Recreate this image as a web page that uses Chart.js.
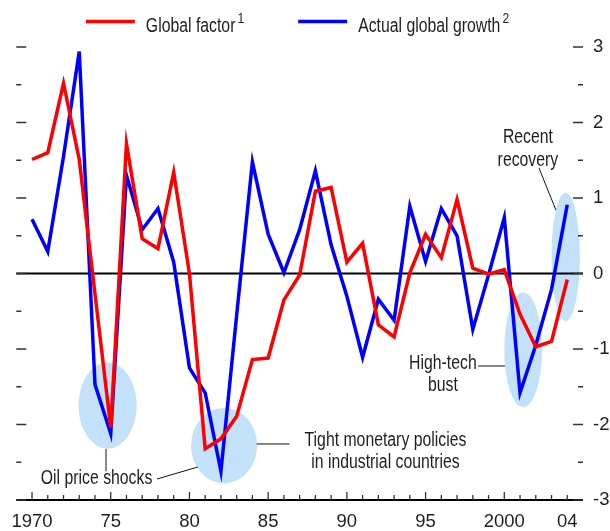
<!DOCTYPE html>
<html>
<head>
<meta charset="utf-8">
<script src="https://cdn.jsdelivr.net/npm/chart.js@4.4.1/dist/chart.umd.min.js"></script>
<style>
  html, body { margin: 0; padding: 0; background: #fff; }
  #wrap { width: 610px; height: 531px; }
</style>
</head>
<body>
<div id="wrap"><canvas id="growthChart" width="610" height="531"></canvas></div>
<script>
const years = [1970, 1971, 1972, 1973, 1974, 1975, 1976, 1977, 1978, 1979,
               1980, 1981, 1982, 1983, 1984, 1985, 1986, 1987, 1988, 1989,
               1990, 1991, 1992, 1993, 1994, 1995, 1996, 1997, 1998, 1999,
               2000, 2001, 2002, 2003, 2004];
const globalFactor = [1.51, 1.60, 2.52, 1.51, -0.27, -2.04, 1.72, 0.46, 0.33, 1.34,
                      0.00, -2.32, -2.19, -1.89, -1.14, -1.12, -0.35, -0.02, 1.09, 1.14,
                      0.15, 0.40, -0.68, -0.84, 0.01, 0.52, 0.21, 0.98, 0.07, -0.01,
                      0.05, -0.54, -0.97, -0.90, -0.08];
const actualGrowth = [0.72, 0.29, 1.55, 2.94, -1.47, -2.12, 1.30, 0.58, 0.86, 0.15,
                      -1.25, -1.58, -2.62, -0.55, 1.48, 0.52, 0.01, 0.58, 1.36, 0.38,
                      -0.30, -1.11, -0.34, -0.62, 0.89, 0.16, 0.86, 0.50, -0.74, -0.02,
                      0.74, -1.58, -0.95, -0.21, 0.91];
const xTickYears = [1970, 1975, 1980, 1985, 1990, 1995, 2000, 2004];
const xTickLabels = ['1970', '75', '80', '85', '90', '95', '2000', '04'];
const yTickValues = [-3, -2, -1, 0, 1, 2, 3];

const textFont = '19.5px "Liberation Sans", Arial, sans-serif';
const supFont = '15px "Liberation Sans", Arial, sans-serif';
const textColor = '#1e1e1e';
const squeeze = 0.81; // condensed look for the annotation text

// shaded episodes, in data units (centre, radii)
const highlights = [
    { x: 1974.8, y: -1.75, rx: 1.85, ry: 0.57 },
    { x: 1982.2, y: -2.28, rx: 2.1, ry: 0.50 },
    { x: 2001.2, y: -1.01, rx: 1.2, ry: 0.76 },
    { x: 2003.9, y: 0.22, rx: 0.9, ry: 0.85 }
];

// annotation texts and leader lines, in data units
const notes = [
    { x: 2001.5, y: 1.80, text: 'Recent' },
    { x: 2001.5, y: 1.50, text: 'recovery' },
    { x: 1996.1, y: -1.20, text: 'High-tech' },
    { x: 1996.1, y: -1.49, text: 'bust' },
    { x: 1974.1, y: -2.72, text: 'Oil price shocks' },
    { x: 1992.45, y: -2.22, text: 'Tight monetary policies' },
    { x: 1992.45, y: -2.50, text: 'in industrial countries' }
];
const leaders = [
    [2002.2, 1.40, 2003.28, 0.84],
    [1998.34, -1.225, 2000.05, -1.225],
    [1974.7, -2.325, 1974.7, -2.62],
    [1977.94, -2.722, 1980.53, -2.563],
    [1984.27, -2.258, 1986.36, -2.258]
];

const legendItems = [
    { text: 'Global factor', sup: '1', color: '#ff0000' },
    { text: 'Actual global growth', sup: '2', color: '#0000ff' }
];

function narrowText(ctx, text, x, y, align) {
    ctx.save();
    ctx.translate(x, y);
    ctx.scale(squeeze, 1);
    ctx.textAlign = align;
    ctx.fillText(text, 0, 0);
    ctx.restore();
}

const decorPlugin = {
    id: 'decor',
    beforeDatasetsDraw(chart) {
        const { ctx, chartArea: a, scales: { x, y } } = chart;
        ctx.save();

        ctx.fillStyle = '#c4e1fa';
        highlights.forEach(h => {
            const cx = x.getPixelForValue(h.x);
            const cy = y.getPixelForValue(h.y);
            const rx = x.getPixelForValue(h.x + h.rx) - cx;
            const ry = cy - y.getPixelForValue(h.y + h.ry);
            ctx.beginPath();
            ctx.ellipse(cx, cy, rx, ry, 0, 0, Math.PI * 2);
            ctx.fill();
        });

        // zero line and bottom axis
        ctx.strokeStyle = '#000';
        ctx.lineWidth = 2;
        ctx.beginPath();
        ctx.moveTo(a.left, y.getPixelForValue(0));
        ctx.lineTo(a.right, y.getPixelForValue(0));
        ctx.moveTo(a.left, a.bottom);
        ctx.lineTo(a.right, a.bottom);
        ctx.stroke();

        // tick marks, drawn inward
        ctx.strokeStyle = '#333';
        ctx.lineWidth = 1.3;
        ctx.beginPath();
        for (let v = -3; v <= 3; v += 0.5) {
            const py = y.getPixelForValue(v);
            const len = Number.isInteger(v) ? 10 : 5;
            ctx.moveTo(a.left, py);
            ctx.lineTo(a.left + len, py);
            ctx.moveTo(a.right, py);
            ctx.lineTo(a.right - len, py);
        }
        years.forEach(yr => {
            const px = x.getPixelForValue(yr);
            const len = xTickYears.includes(yr) && yr !== 2004 ? 8 : 5;
            ctx.moveTo(px, a.bottom);
            ctx.lineTo(px, a.bottom - len);
        });
        ctx.stroke();
        ctx.restore();
    },
    afterDraw(chart) {
        const { ctx, scales: { x, y } } = chart;
        ctx.save();

        ctx.strokeStyle = '#111';
        ctx.lineWidth = 1;
        ctx.beginPath();
        leaders.forEach(l => {
            ctx.moveTo(x.getPixelForValue(l[0]), y.getPixelForValue(l[1]));
            ctx.lineTo(x.getPixelForValue(l[2]), y.getPixelForValue(l[3]));
        });
        ctx.stroke();

        ctx.font = textFont;
        ctx.fillStyle = textColor;
        ctx.textBaseline = 'middle';
        notes.forEach(n => {
            narrowText(ctx, n.text, x.getPixelForValue(n.x), y.getPixelForValue(n.y), 'center');
        });

        // legend with superscripts
        const lineLen = 49, gap = 11, itemGap = 54;
        const widths = legendItems.map(it => {
            ctx.font = textFont;
            const tw = ctx.measureText(it.text).width * squeeze;
            ctx.font = supFont;
            return { tw, sw: ctx.measureText(it.sup).width * squeeze };
        });
        let total = 0;
        widths.forEach((w, i) => { total += lineLen + gap + w.tw + 2 + w.sw + (i ? itemGap : 0); });
        let px = 297.5 - total / 2;
        ctx.textBaseline = 'alphabetic';
        legendItems.forEach((it, i) => {
            ctx.strokeStyle = it.color;
            ctx.lineWidth = 3.5;
            ctx.beginPath();
            ctx.moveTo(px, 21.5);
            ctx.lineTo(px + lineLen, 21.5);
            ctx.stroke();
            px += lineLen + gap;
            ctx.font = textFont;
            ctx.fillStyle = textColor;
            narrowText(ctx, it.text, px, 31.5, 'left');
            px += widths[i].tw + 2;
            ctx.font = supFont;
            narrowText(ctx, it.sup, px, 23, 'left');
            px += widths[i].sw + itemGap;
        });
        ctx.restore();
    }
};

const ctx = document.getElementById('growthChart').getContext('2d');
new Chart(ctx, {
    type: 'line',
    data: {
        datasets: [{
            label: 'Global factor',
            data: years.map((yr, i) => ({ x: yr, y: globalFactor[i] })),
            borderColor: '#ff0000',
            borderWidth: 3.5,
            pointRadius: 0,
            tension: 0,
            borderJoinStyle: 'miter',
            fill: false
        }, {
            label: 'Actual global growth',
            data: years.map((yr, i) => ({ x: yr, y: actualGrowth[i] })),
            borderColor: '#0000ff',
            borderWidth: 3.5,
            pointRadius: 0,
            tension: 0,
            borderJoinStyle: 'miter',
            fill: false
        }]
    },
    options: {
        responsive: false,
        animation: false,
        layout: { padding: { left: 16, top: 47, right: 0, bottom: 0 } },
        plugins: {
            legend: { display: false },
            tooltip: { enabled: false }
        },
        scales: {
            x: {
                type: 'linear',
                min: 1969,
                max: 2005,
                grid: { display: false, drawTicks: false },
                border: { display: false },
                afterBuildTicks: s => { s.ticks = xTickYears.map(v => ({ value: v })); },
                afterFit: s => { s.height = 31; },
                ticks: {
                    autoSkip: false,
                    maxRotation: 0,
                    padding: 11,
                    color: textColor,
                    font: { family: '"Liberation Sans", Arial, sans-serif', size: 18.5 },
                    callback: v => xTickLabels[xTickYears.indexOf(v)] || ''
                }
            },
            y: {
                position: 'right',
                min: -3,
                max: 3,
                grid: { display: false, drawTicks: false },
                border: { display: false },
                afterBuildTicks: s => { s.ticks = yTickValues.map(v => ({ value: v })); },
                afterFit: s => { s.width = 27; },
                ticks: {
                    padding: 10,
                    color: textColor,
                    font: { family: '"Liberation Sans", Arial, sans-serif', size: 18.5 },
                    callback: v => String(v)
                }
            }
        }
    },
    plugins: [decorPlugin]
});
</script>
</body>
</html>
